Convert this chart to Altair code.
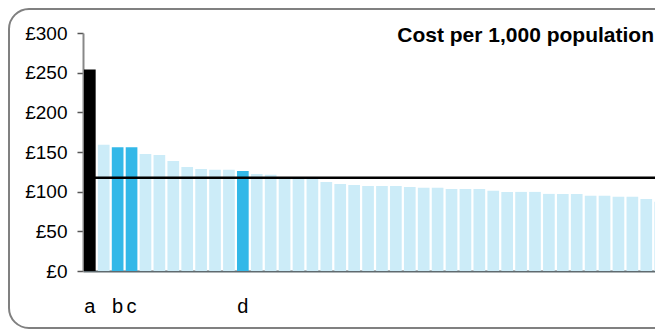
import altair as alt
import pandas as pd

# ---- data ----
values = [254, 159, 156, 156, 147.6, 146.3, 138.8, 131.2, 128.7, 127.5, 127.5, 126.2,
          122.4, 121.2, 118.5, 118, 117.5, 112.3, 109.8, 108.5, 107.3, 107.3, 107.3, 106,
          104.8, 104.8, 103.5, 103.5, 103.5, 101, 99.7, 99.7, 99.7, 97.2, 97.2, 97.2,
          94.7, 94.7, 93.5, 93.5, 90.9, 87.2]
categories = [f"{i:02d}" for i in range(len(values))]
groups = ["a" if i == 0 else ("highlight" if i in (2, 3, 11) else "other") for i in range(len(values))]
labels = {0: "a", 2: "b", 3: "c", 11: "d"}
label_list = [labels.get(i, "") for i in range(len(values))]
average = 117.4
tick_values = [0, 50, 100, 150, 200, 250, 300]
title_text = "Cost per 1,000 population"

df = pd.DataFrame({
    "cat": categories,
    "value": values,
    "group": groups,
    "label": label_list,
    "avg": [average] * len(values),
})

FONT = "Liberation Sans"

x_axis = alt.Axis(labels=False, ticks=False, title=None, domainColor="#5f6a6f", domainWidth=2)
x_scale = alt.Scale(paddingInner=0.16, paddingOuter=0.07)
y_axis = alt.Axis(values=tick_values, title=None, grid=False, labelOverlap=False,
                  labelExpr="'£' + datum.label", labelFontSize=19, labelFont=FONT,
                  labelColor="black", labelPadding=10, tickSize=6, tickColor="#555555",
                  tickWidth=1.5, domainColor="#888888", domainWidth=2)
y_scale = alt.Scale(domain=[0, 300], nice=False)

bars = alt.Chart(df).mark_bar().encode(
    x=alt.X("cat:N", sort=None, scale=x_scale, axis=x_axis),
    y=alt.Y("value:Q", scale=y_scale, axis=y_axis),
    color=alt.Color("group:N", scale=alt.Scale(domain=["a", "highlight", "other"],
                                                 range=["#000000", "#33b8e8", "#ccecf8"]),
                    legend=None),
)

avg_line = alt.Chart(df).mark_line(color="black", strokeWidth=2.5).encode(
    x=alt.X("cat:N", sort=None, scale=x_scale, axis=x_axis),
    y=alt.Y("avg:Q", scale=y_scale, axis=y_axis),
)

cat_labels = alt.Chart(df).mark_text(baseline="alphabetic", fontSize=20, font=FONT, color="black").encode(
    x=alt.X("cat:N", sort=None, scale=x_scale, axis=x_axis),
    y=alt.value(280),
    text="label:N",
)

title = alt.Chart(alt.Data(values=[{"t": title_text}])).mark_text(
    align="right", baseline="alphabetic", fontSize=21, fontWeight="bold", font=FONT, color="black"
).encode(x=alt.value(571), y=alt.value(9), text="t:N")

border = alt.Chart(alt.Data(values=[{}])).mark_rect(
    filled=False, stroke="#808080", strokeWidth=2, cornerRadius=20
).encode(x=alt.value(-74), x2=alt.value(600), y=alt.value(-24), y2=alt.value(295))

chart = alt.layer(bars, avg_line, cat_labels, title, border).properties(
    width=584, height=238,
    padding={"left": 75, "top": 25, "right": -12, "bottom": 59},
    autosize=alt.AutoSizeParams(type="none"),
).configure_view(stroke=None).configure_axis(labelOverlap=False)

chart.save("out.html", embed_options={"renderer": "svg", "actions": False})
